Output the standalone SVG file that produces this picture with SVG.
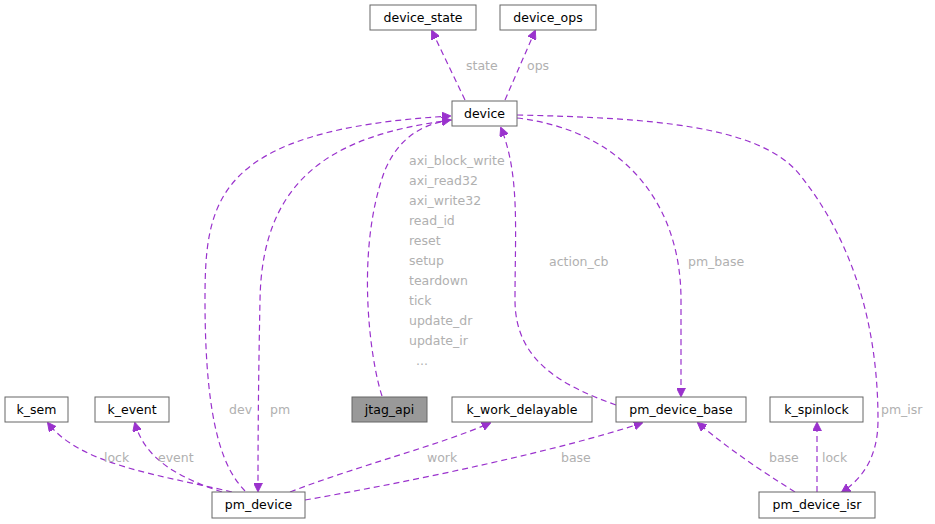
<svg xmlns="http://www.w3.org/2000/svg" width="935" height="524" viewBox="0 0 935 524">
<style>
.n rect{fill:#fff;stroke:#666;stroke-width:1}
.n text{font-family:"DejaVu Sans",sans-serif;font-size:12.5px;fill:#000;text-anchor:middle}
.e path{fill:none;stroke:#9a32cd;stroke-width:1.2;stroke-dasharray:6,4;marker-end:url(#a)}
.l{font-family:"DejaVu Sans",sans-serif;font-size:12.5px;fill:#b0b0b0}
</style>
<defs><marker id="a" viewBox="0 0 10 10" refX="9" refY="5" markerWidth="9" markerHeight="9" orient="auto" markerUnits="userSpaceOnUse"><path d="M0,0L10,5L0,10z" fill="#9a32cd" stroke="#9a32cd"/></marker></defs>
<rect width="935" height="524" fill="#fff"/>
<g class="e">
<path d="M465,100L432,31"/>
<path d="M505,100L535,31"/>
<path d="M382,396C370,360 355,250 385,170C400,135 425,124 450,120"/>
<path d="M245,491C225,470 205,430 205,300C205,200 215,130 450,116"/>
<path d="M452,120C330,135 262,180 260,300C258,400 258,460 258,491"/>
<path d="M616,405C560,385 515,360 515,300C515,230 520,175 501,128"/>
<path d="M517,118C620,130 681,200 681,300C681,360 681,380 681,396"/>
<path d="M517,115C650,118 760,125 800,175C860,250 878,340 878,420C878,460 860,480 842,492"/>
<path d="M232,492C160,475 80,465 48,423"/>
<path d="M222,492C180,478 145,460 135,423"/>
<path d="M290,492C360,465 440,445 490,423"/>
<path d="M305,500C420,480 560,450 642,423"/>
<path d="M795,492C760,470 730,450 698,423"/>
<path d="M817,492L817,423"/>
</g>
<g class="l">
<text x="466" y="70">state</text>
<text x="527" y="70">ops</text>
<text x="409" y="165">axi_block_write</text>
<text x="409" y="185">axi_read32</text>
<text x="409" y="205">axi_write32</text>
<text x="409" y="225">read_id</text>
<text x="409" y="245">reset</text>
<text x="409" y="265">setup</text>
<text x="409" y="285">teardown</text>
<text x="409" y="305">tick</text>
<text x="409" y="325">update_dr</text>
<text x="409" y="345">update_ir</text>
<text x="416" y="365">...</text>
<text x="229" y="414">dev</text>
<text x="270" y="414">pm</text>
<text x="549" y="266">action_cb</text>
<text x="688" y="266">pm_base</text>
<text x="881" y="414">pm_isr</text>
<text x="104" y="462">lock</text>
<text x="158" y="462">event</text>
<text x="427" y="462">work</text>
<text x="561" y="462">base</text>
<text x="769" y="462">base</text>
<text x="822" y="462">lock</text>
</g>
<g id="device_state" class="n"><rect x="370" y="5" width="106" height="25"/><text x="423" y="22">device_state</text></g>
<g id="device_ops" class="n"><rect x="500" y="5" width="96" height="25"/><text x="548" y="22">device_ops</text></g>
<g id="device" class="n"><rect x="452" y="101" width="65" height="25"/><text x="484.5" y="118">device</text></g>
<g id="jtag_api" class="n"><rect x="352" y="397" width="75" height="25" style="fill:#999"/><text x="389.5" y="414">jtag_api</text></g>
<g id="k_sem" class="n"><rect x="5" y="397" width="63" height="25"/><text x="36.5" y="414">k_sem</text></g>
<g id="k_event" class="n"><rect x="95" y="397" width="74" height="25"/><text x="132" y="414">k_event</text></g>
<g id="k_work_delayable" class="n"><rect x="452" y="397" width="140" height="25"/><text x="522" y="414">k_work_delayable</text></g>
<g id="pm_device_base" class="n"><rect x="616" y="397" width="130" height="25"/><text x="681" y="414">pm_device_base</text></g>
<g id="k_spinlock" class="n"><rect x="770" y="397" width="93" height="25"/><text x="816.5" y="414">k_spinlock</text></g>
<g id="pm_device" class="n"><rect x="212" y="492" width="93" height="26"/><text x="258.5" y="509">pm_device</text></g>
<g id="pm_device_isr" class="n"><rect x="759" y="492" width="116" height="26"/><text x="817" y="509">pm_device_isr</text></g>
</svg>
